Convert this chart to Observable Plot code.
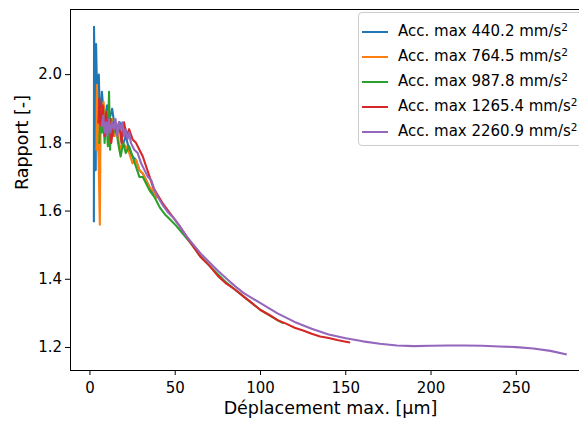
<!DOCTYPE html>
<html><head><meta charset="utf-8">
<script src="https://cdn.jsdelivr.net/npm/d3@7"></script>
<script src="https://cdn.jsdelivr.net/npm/@observablehq/plot@0.6"></script>
<style>
html,body{margin:0;padding:0;overflow:hidden;background:#fff;width:579px;height:421px;}
#wrap{position:relative;width:600px;height:421px;font-family:"DejaVu Sans",sans-serif;color:#000;}
#legend{position:absolute;left:358px;top:12px;width:240px;height:134px;border:1px solid #cccccc;border-radius:4px;background:rgba(255,255,255,0.85);box-sizing:border-box;}
.sw{position:absolute;left:362px;width:26px;height:2px;}
.lt{position:absolute;left:398px;font-size:15px;line-height:17px;white-space:nowrap;}
.lt sup{font-size:70%;vertical-align:0.5em;line-height:0;}
</style></head>
<body><div id="wrap"></div>
<script>
// Series labels (max acceleration, mm/s^2)
const accLabels = ["440.2", "764.5", "987.8", "1265.4", "2260.9"];

// Series 1: Acc. max 440.2
const x1 = [2.3, 2.4, 3.4, 3.6, 4.8, 5.2, 6.0, 7.0, 8.5, 10, 11.5, 13, 14.5, 16, 17.5, 19, 21, 23, 25, 27, 29, 31, 33, 35, 37];
const y1 = [1.57, 2.14, 1.72, 2.09, 1.78, 2.00, 1.84, 1.95, 1.86, 1.91, 1.87, 1.90, 1.85, 1.83, 1.86, 1.79, 1.82, 1.78, 1.76, 1.75, 1.72, 1.71, 1.69, 1.67, 1.65];

// Series 2: Acc. max 764.5
const x2 = [3.8, 4.1, 4.6, 5.2, 5.8, 6.3, 7.0, 8.0, 9.0, 10, 11.5, 13, 14.5, 16, 17.5, 19, 21, 23, 25, 27, 29, 31, 33, 35, 37, 39];
const y2 = [1.78, 1.97, 1.86, 1.72, 1.56, 1.90, 1.84, 1.92, 1.86, 1.89, 1.83, 1.87, 1.82, 1.84, 1.78, 1.80, 1.79, 1.77, 1.74, 1.75, 1.72, 1.71, 1.69, 1.67, 1.66, 1.64];

// Series 3: Acc. max 987.8
const x3 = [5.5, 6.0, 7.0, 7.8, 8.6, 9.5, 10.5, 11.2, 11.8, 12.5, 13.5, 15, 16.5, 18, 19.5, 21, 23, 25, 27, 29, 31, 33, 35, 38, 41, 44, 47, 50, 55, 60, 65, 70, 75, 80, 85, 90, 95, 100, 105, 110, 113];
const y3 = [1.80, 1.87, 1.83, 1.90, 1.80, 1.88, 1.79, 1.95, 1.78, 1.87, 1.82, 1.86, 1.80, 1.76, 1.80, 1.77, 1.79, 1.76, 1.73, 1.70, 1.70, 1.68, 1.66, 1.64, 1.61, 1.59, 1.575, 1.56, 1.53, 1.50, 1.465, 1.44, 1.415, 1.39, 1.37, 1.35, 1.33, 1.31, 1.295, 1.28, 1.272];

// Series 4: Acc. max 1265.4
const x4 = [5.0, 5.5, 6.5, 7.5, 8.5, 9.5, 10.5, 11.5, 12.5, 14, 15.5, 17, 18.5, 20, 21.5, 23, 25, 27, 29, 31, 33, 35, 37, 40, 43, 46, 49, 52, 56, 60, 65, 70, 75, 80, 85, 90, 95, 100, 105, 110, 115, 120, 125, 130, 135, 140, 145, 150, 152];
const y4 = [1.86, 1.93, 1.85, 1.91, 1.82, 1.89, 1.84, 1.87, 1.80, 1.86, 1.83, 1.86, 1.80, 1.86, 1.82, 1.84, 1.81, 1.80, 1.78, 1.76, 1.73, 1.70, 1.67, 1.645, 1.62, 1.60, 1.58, 1.56, 1.53, 1.50, 1.465, 1.44, 1.41, 1.387, 1.37, 1.35, 1.33, 1.31, 1.296, 1.28, 1.27, 1.258, 1.25, 1.24, 1.232, 1.228, 1.222, 1.217, 1.215];

// Series 5: Acc. max 2260.9
const x5 = [7.0, 7.8, 8.6, 9.4, 10.2, 11, 12, 13, 14, 15, 16, 17, 18, 19, 20, 21, 22, 23, 24, 26, 28, 30, 32, 34, 36, 38, 40, 43, 46, 49, 52, 56, 60, 65, 70, 75, 80, 85, 90, 95, 100, 110, 120, 130, 140, 150, 160, 170, 180, 190, 200, 210, 220, 230, 240, 250, 260, 270, 279];
const y5 = [1.85, 1.88, 1.83, 1.86, 1.82, 1.87, 1.83, 1.86, 1.84, 1.87, 1.82, 1.86, 1.84, 1.86, 1.82, 1.84, 1.81, 1.83, 1.80, 1.78, 1.77, 1.74, 1.72, 1.70, 1.69, 1.66, 1.64, 1.615, 1.595, 1.58, 1.56, 1.53, 1.505, 1.475, 1.45, 1.425, 1.402, 1.38, 1.36, 1.345, 1.33, 1.30, 1.275, 1.255, 1.238, 1.227, 1.218, 1.211, 1.206, 1.204, 1.205, 1.206, 1.206, 1.205, 1.203, 1.201, 1.197, 1.19, 1.18];

// Tick values
const xTicks = [0, 50, 100, 150, 200, 250];
const yTicks = [1.2, 1.4, 1.6, 1.8, 2.0];

const xLabel = "Déplacement max. [μm]";
const yLabel = "Rapport [-]";

const colors = ["#1f77b4", "#ff7f0e", "#2ca02c", "#d62728", "#9467bd"];
const xs = [x1, x2, x3, x4, x5];
const ys = [y1, y2, y3, y4, y5];

const rows = [];
xs.forEach((xa, s) => xa.forEach((x, i) => rows.push({series: accLabels[s], x, y: ys[s][i]})));

const chart = Plot.plot({
  width: 600,
  height: 421,
  marginLeft: 70,
  marginRight: 10,
  marginTop: 9,
  marginBottom: 51,
  style: {fontFamily: "DejaVu Sans, sans-serif", fontSize: "15px", color: "#000", background: "#fff", maxWidth: "none", overflow: "visible"},
  x: {domain: [-11.4, 293.5]},
  y: {domain: [1.1325, 2.191]},
  color: {domain: accLabels, range: colors},
  marks: [
    Plot.line(rows, {x: "x", y: "y", z: "series", stroke: "series", strokeWidth: 2.1, strokeLinejoin: "round", strokeLinecap: "square"}),
    Plot.frame({stroke: "#000", strokeWidth: 1}),
    Plot.axisX({ticks: xTicks, tickSize: 5, tickPadding: 7, tickFormat: d3.format("d"), label: null, fontSize: 15}),
    Plot.axisY({ticks: yTicks, tickSize: 5, tickPadding: 3.5, tickFormat: d3.format(".1f"), label: null, fontSize: 15}),
    Plot.text([xLabel], {text: d => d, frameAnchor: "bottom", dy: 43, fontSize: 17.5}),
    Plot.text([yLabel], {text: d => d, frameAnchor: "left", dx: -48, rotate: -90, fontSize: 17.5})
  ]
});
const wrap = document.getElementById("wrap");
wrap.appendChild(chart);

// Legend
const leg = document.createElement("div");
leg.id = "legend";
wrap.appendChild(leg);
accLabels.forEach((lab, i) => {
  const cy = 32 + 25.1 * i;
  const sw = document.createElement("div");
  sw.className = "sw";
  sw.style.top = (cy - 1) + "px";
  sw.style.background = colors[i];
  wrap.appendChild(sw);
  const t = document.createElement("div");
  t.className = "lt";
  t.style.top = (cy - 9) + "px";
  t.innerHTML = "Acc. max " + lab + " mm/s<sup>2</sup>";
  wrap.appendChild(t);
});
</script>
</body></html>
